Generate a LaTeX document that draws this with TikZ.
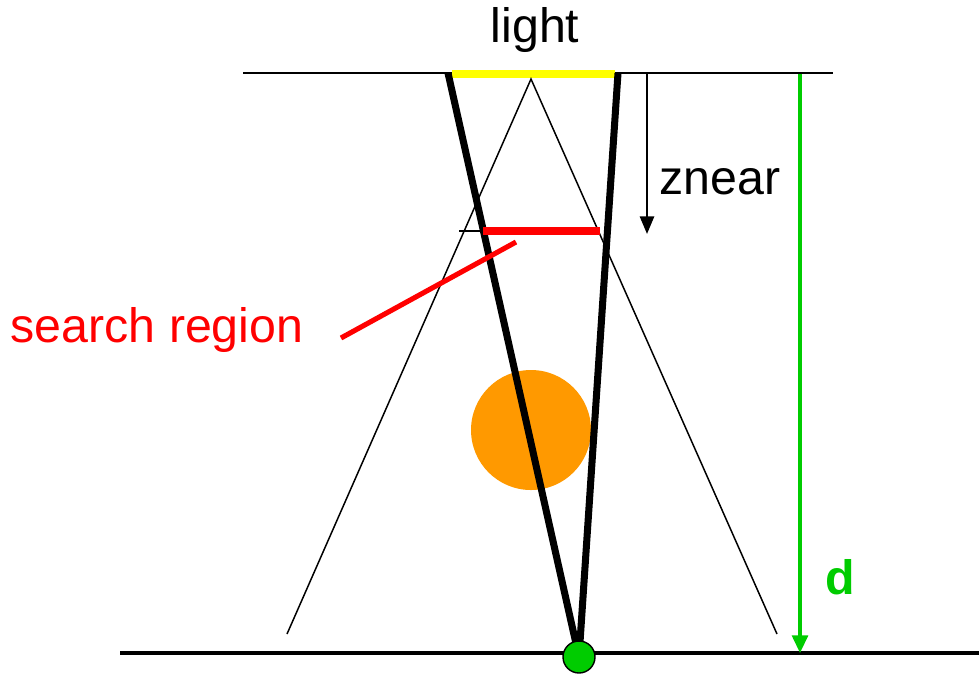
\documentclass[tikz,border=0pt]{standalone}
\usepackage{fontspec}
\setmainfont{Liberation Sans}
\usetikzlibrary{arrows.meta}
\definecolor{myyellow}{RGB}{255,255,0}
\definecolor{myred}{RGB}{255,0,0}
\definecolor{mygreen}{RGB}{0,204,0}
\definecolor{myorange}{RGB}{255,153,0}

\begin{document}
\begin{tikzpicture}[x=0.02cm,y=-0.02cm,
  thinline/.style={line width=0.85pt},
  beam/.style={line width=4pt},
  dot/.style={circle,draw=black,line width=0.8pt,fill=mygreen,minimum size=0.64cm,inner sep=0pt},
  lbl/.style={font=\fontsize{27.5}{32}\selectfont}]
  \useasboundingbox (0,0) rectangle (979,674);
  % Points
  \coordinate (tl) at (243,73);
  \coordinate (tr) at (833,73);
  \coordinate (apex) at (531,79);
  \coordinate (fl) at (287,634);
  \coordinate (fr) at (777,634);
  \coordinate (bl) at (448,73);
  \coordinate (br) at (618,73);
  \coordinate (rl) at (459,231);
  \coordinate (rs) at (483,231);
  \coordinate (re) at (600,231);
  \coordinate (pa) at (341,338);
  \coordinate (pb) at (516,242);
  \coordinate (gl) at (120,653);
  \coordinate (gr) at (979,653);
  % Occluder and receiver point
  \fill[myorange] (531,430) circle (60);
  \coordinate (pt) at (579,657);
  % Light and frustum
  \draw[thinline] (tl) -- (tr);
  \draw[myyellow,line width=4pt] (452,74) -- (615,74);
  \draw[thinline] (fl) -- (apex) -- (fr);
  \draw[thinline] (rl) -- (re);
  \draw[beam] (bl) -- (pt);
  \draw[beam] (br) -- (pt);
  \draw[myred,line width=4pt] (rs) -- (re);
  % Ground
  \draw[line width=2.3pt] (gl) -- (gr);
  \node[dot] (recv) at (pt) {};
  % Labels
  \node[lbl] (light) at (535,30) {light};
  \node[lbl] (znear) at (720,182) {znear};
  \draw[-{Triangle[length=10pt,width=8pt]},line width=1.4pt] (647,74) -- (647,234);
  \node[lbl,myred] (search) at (157,330) {search region};
  \draw[myred,line width=2.9pt] (pa) -- (pb);
  \node[lbl,mygreen,font=\fontsize{27.5}{32}\selectfont\bfseries] (d) at (840,577) {d};
  \draw[mygreen,-{Triangle[length=10pt,width=9pt]},line width=1.8pt] (800,74) -- (800,653);
\end{tikzpicture}
\end{document}
